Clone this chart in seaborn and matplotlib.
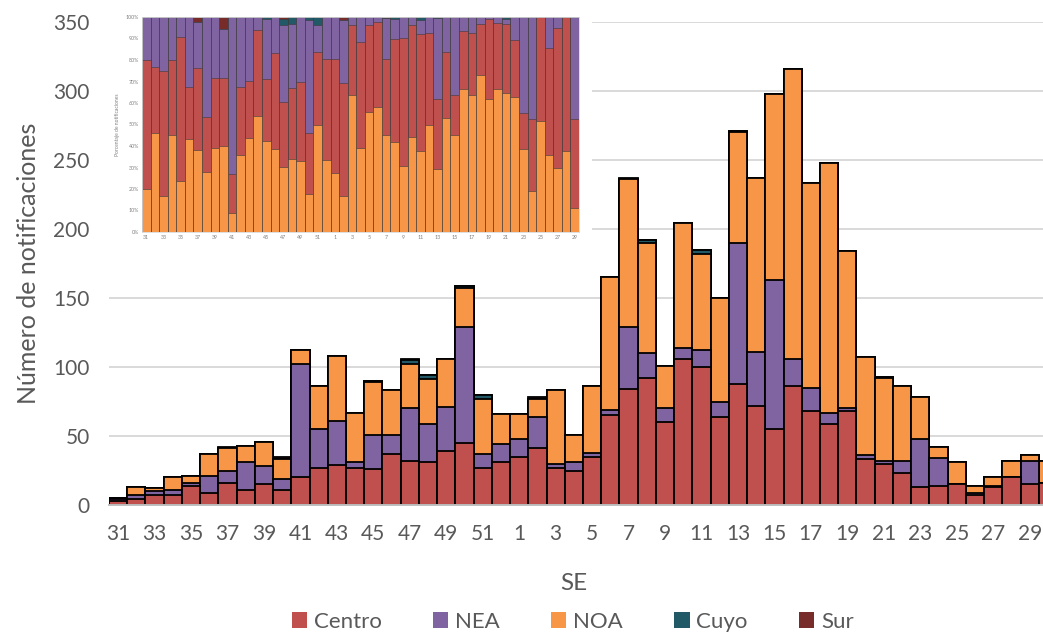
import numpy as np
import pandas as pd
import matplotlib
matplotlib.use('Agg')
from matplotlib import pyplot as plt
from matplotlib.patches import Patch, Rectangle
import seaborn as sns

sns.set_theme(style='white')
plt.rcParams['font.family'] = ['Lato', 'DejaVu Sans']

# semanas epidemiologicas (SE)
weeks = list(range(31, 53)) + list(range(1, 31))
centro = [3, 4, 7, 7, 14, 9, 16, 11, 15, 11, 20, 27, 29, 27, 26, 37, 32, 31, 39, 45, 27, 31,
          35, 41, 27, 25, 35, 65, 84, 92, 60, 106, 100, 64, 88, 72, 55, 86, 68, 59, 68, 33,
          30, 23, 13, 14, 15, 7, 13, 20, 15, 16]
nea = [1, 3, 3, 4, 2, 12, 9, 20, 13, 8, 82, 28, 32, 4, 25, 14, 38, 28, 32, 84, 10, 13,
       13, 23, 3, 6, 3, 4, 45, 18, 10, 8, 12, 11, 102, 39, 108, 20, 17, 8, 2, 3,
       2, 9, 35, 20, 0, 2, 1, 0, 17, 0]
noa = [1, 6, 2, 9, 5, 16, 16, 12, 18, 14, 10, 31, 47, 36, 38, 32, 32, 32, 35, 28, 40, 22,
       18, 13, 53, 20, 48, 96, 107, 80, 31, 90, 70, 75, 80, 126, 135, 210, 148, 181, 114, 71,
       60, 54, 30, 8, 16, 5, 6, 12, 4, 16]
cuyo = [0, 0, 0, 0, 0, 0, 0, 0, 0, 0, 0, 0, 0, 0, 1, 0, 3, 3, 0, 2, 3, 0,
        0, 0, 0, 0, 0, 0, 0, 2, 0, 0, 3, 0, 1, 0, 0, 0, 0, 0, 0, 0,
        1, 0, 0, 0, 0, 0, 0, 0, 0, 0]
sur = [0, 0, 0, 0, 0, 0, 1, 0, 0, 2, 0, 0, 0, 0, 0, 0, 1, 0, 0, 0, 0, 0,
       0, 1, 0, 0, 0, 0, 1, 0, 0, 0, 0, 0, 0, 0, 0, 0, 0, 0, 0, 0,
       0, 0, 0, 0, 0, 0, 0, 0, 0, 0]

regiones = ['Centro', 'NEA', 'NOA', 'Cuyo', 'Sur']
colores = {'Centro': '#C0504D', 'NEA': '#8064A2', 'NOA': '#F79646',
           'Cuyo': '#215967', 'Sur': '#772C2A'}

df = pd.DataFrame({'SE': [str(w) for w in weeks], 'Centro': centro, 'NEA': nea,
                   'NOA': noa, 'Cuyo': cuyo, 'Sur': sur})
orden = list(df['SE'])
n = len(df)

fig = plt.figure(figsize=(10.43, 6.32), dpi=100)
ax = fig.add_axes([109 / 1043, 127 / 632, 948 / 1043, 483 / 632])

# barras apiladas: se dibujan los acumulados de arriba hacia abajo
acum = df[regiones].cumsum(axis=1)
for reg in regiones[::-1]:
    sns.barplot(x=df['SE'], y=acum[reg], order=orden, color=colores[reg], saturation=1,
                width=1, edgecolor='black', linewidth=1.3, ax=ax)

ax.set_ylim(0, 350)
ax.set_xlim(-0.5, n - 0.5)
ax.set_yticks(range(0, 351, 50))
ax.yaxis.grid(True, color='#D9D9D9', lw=1.4)
ax.set_axisbelow(True)
for s in ['left', 'right', 'top']:
    ax.spines[s].set_visible(False)
ax.spines['bottom'].set_color('#BFBFBF')
ax.spines['bottom'].set_linewidth(1.4)

ticks = list(range(0, n, 2))
ax.set_xticks(ticks)
ax.set_xticklabels([orden[i] for i in ticks])
ax.set_xticks(np.arange(-0.5, n, 1), minor=True)
ax.tick_params(axis='x', which='major', length=0, pad=14, labelsize=15, labelcolor='#595959')
ax.tick_params(axis='x', which='minor', length=5, color='#BFBFBF', width=1)
ax.tick_params(axis='y', length=0, pad=14, labelsize=15, labelcolor='#595959')
ax.set_xlabel('SE', fontsize=17.5, color='#595959')
ax.set_ylabel('Número de notificaciones', fontsize=18, color='#595959')
ax.xaxis.set_label_coords(0.49, -0.14)
ax.yaxis.set_label_coords(-0.073, 0.5)

# leyenda
handles = [Patch(facecolor=colores[r], edgecolor='none') for r in regiones]
fig.legend(handles, regiones, loc='center', bbox_to_anchor=(0.549, 0.016), ncol=5,
           frameon=False, fontsize=16, handlelength=0.7, handleheight=0.7,
           handletextpad=0.3, columnspacing=2.3, labelcolor='#595959')

# recuadro blanco del grafico porcentual
fig.add_artist(Rectangle((100 / 1043, 1 - 250 / 632), 492 / 1043, 250 / 632,
                         transform=fig.transFigure, facecolor='white', edgecolor='none', zorder=1))

# grafico insertado: porcentaje de notificaciones (SE 31 a 29)
ins = fig.add_axes([142 / 1043, 1 - 232 / 632, 437 / 1043, 215 / 632], zorder=2)
sub = df.iloc[:51].copy()
orden_in = ['NOA', 'Centro', 'NEA', 'Cuyo', 'Sur']
pct = sub[orden_in].div(sub[orden_in].sum(axis=1), axis=0) * 100
acum_in = pct.cumsum(axis=1)
for reg in orden_in[::-1]:
    sns.barplot(x=sub['SE'], y=acum_in[reg], order=list(sub['SE']), color=colores[reg],
                saturation=1, width=1, edgecolor='#3a3a3a', linewidth=0.4, ax=ins)
ins.set_ylim(0, 100)
ins.set_xlim(-0.5, 50.5)
ins.set_yticks(range(0, 101, 10))
ins.set_yticklabels([f'{v}%' for v in range(0, 101, 10)])
ticks_in = list(range(0, 51, 2))
ins.set_xticks(ticks_in)
ins.set_xticklabels([sub['SE'].iloc[i] for i in ticks_in])
ins.tick_params(axis='both', length=0, pad=2, labelsize=3.8, labelcolor='#7f7f7f')
ins.set_xlabel('')
ins.set_ylabel('Porcentaje de notificaciones', fontsize=3.6, color='#7f7f7f', labelpad=4)
for s in ins.spines.values():
    s.set_color('#D9D9D9')
    s.set_linewidth(0.6)

fig.savefig('out.png', dpi=100)
